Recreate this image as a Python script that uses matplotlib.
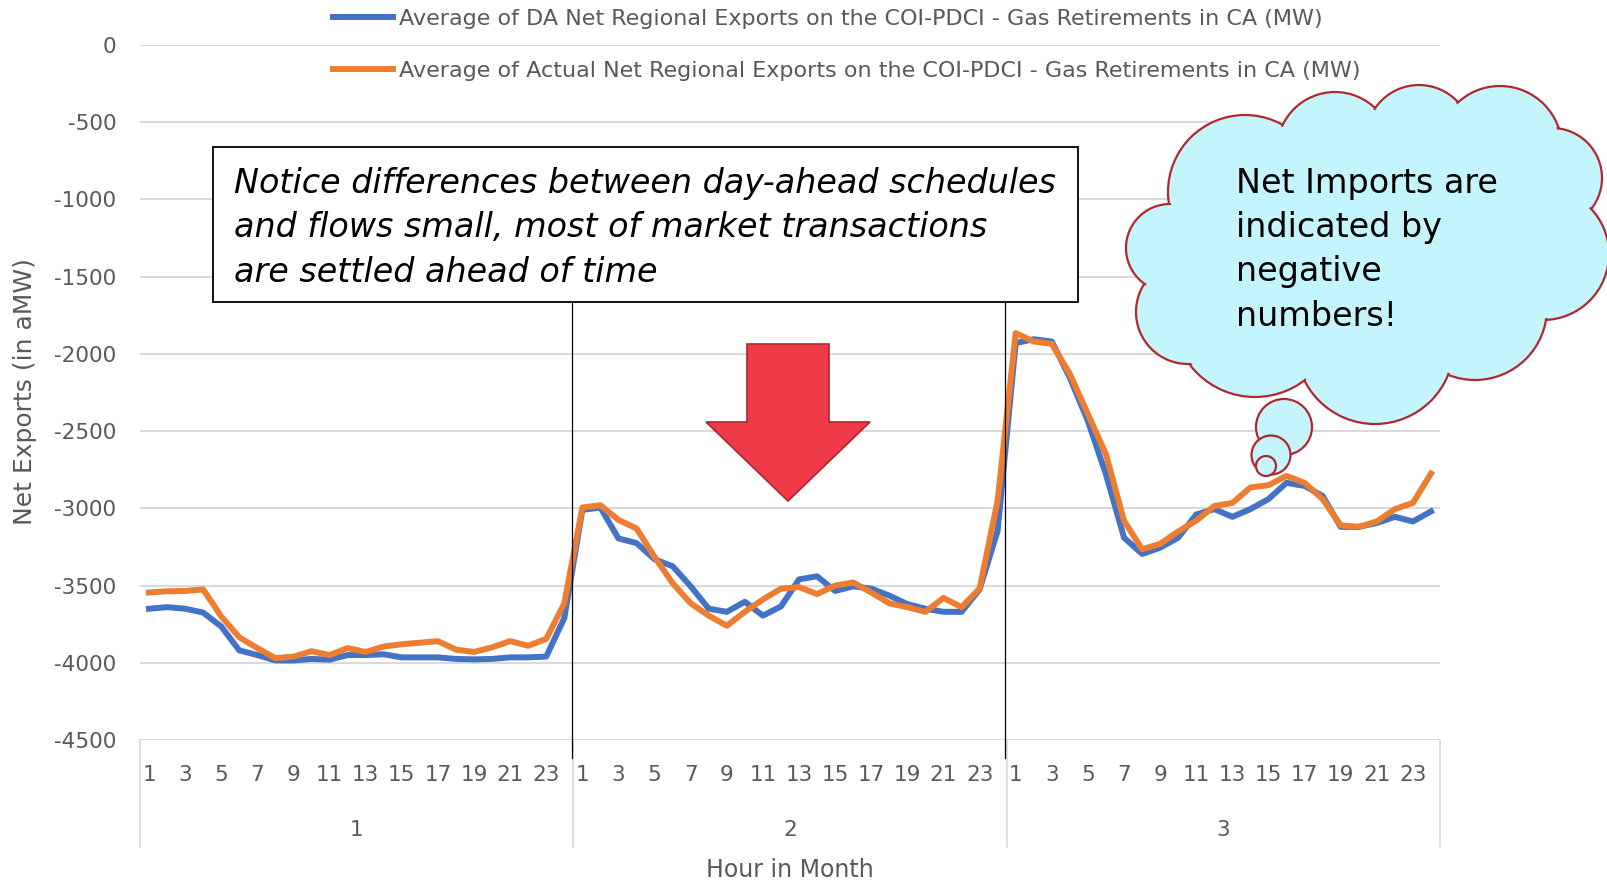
import matplotlib
matplotlib.use('Agg')
import matplotlib.pyplot as plt
import matplotlib.transforms as mtransforms
from matplotlib.patches import Rectangle, Polygon, Circle
import numpy as np

plt.rcParams['font.family'] = ['DejaVu Sans']
plt.rcParams['axes.unicode_minus'] = False

# data: average net regional exports (MW), hour 1..24 for each day
days = [1, 2, 3]
hours = list(range(1, 25))

da_day1 = [-3650, -3640, -3650, -3675, -3765, -3920, -3950, -3985, -3985, -3975, -3980, -3950,
           -3950, -3945, -3965, -3965, -3965, -3975, -3978, -3975, -3965, -3965, -3960, -3710]
da_day2 = [-3010, -2995, -3195, -3225, -3330, -3375, -3505, -3650, -3670, -3605, -3695, -3635,
           -3460, -3440, -3535, -3505, -3520, -3565, -3620, -3650, -3670, -3670, -3525, -3145]
da_day3 = [-1930, -1905, -1920, -2155, -2435, -2780, -3190, -3295, -3255, -3190, -3040, -3005,
           -3055, -3005, -2940, -2835, -2855, -2920, -3120, -3120, -3095, -3055, -3085, -3020]

act_day1 = [-3545, -3537, -3535, -3525, -3700, -3835, -3905, -3970, -3960, -3925, -3950, -3905,
            -3930, -3895, -3880, -3870, -3860, -3915, -3930, -3900, -3860, -3890, -3845, -3615]
act_day2 = [-2995, -2980, -3075, -3130, -3315, -3485, -3615, -3695, -3760, -3670, -3590, -3520,
            -3510, -3555, -3500, -3480, -3545, -3615, -3640, -3670, -3580, -3640, -3520, -2950]
act_day3 = [-1865, -1920, -1935, -2130, -2390, -2650, -3080, -3265, -3230, -3150, -3080, -2985,
            -2965, -2865, -2850, -2790, -2835, -2940, -3110, -3120, -3085, -3005, -2965, -2775]

yticks = list(range(0, -5000, -500))

da_label = 'Average of DA Net Regional Exports on the COI-PDCI - Gas Retirements in CA (MW)'
act_label = 'Average of Actual Net Regional Exports on the COI-PDCI - Gas Retirements in CA (MW)'

da = np.array(da_day1 + da_day2 + da_day3)
act = np.array(act_day1 + act_day2 + act_day3)
n = len(days) * len(hours)
x = np.arange(n) + 0.5

gray = '#595959'
W, H = 1608, 885
fig = plt.figure(figsize=(W / 100, H / 100), dpi=100)
ax = fig.add_axes([140 / W, 1 - 740 / H, 1300 / W, 695 / H])

l1, = ax.plot(x, da, color='#4472C4', lw=4.3, solid_joinstyle='round', zorder=3)
l2, = ax.plot(x, act, color='#ED7D31', lw=4.3, solid_joinstyle='round', zorder=4)

ax.set_xlim(0, n)
ax.set_ylim(-4500, 0)
ax.set_yticks(yticks)
ax.set_yticklabels([str(v) for v in yticks])
ax.grid(axis='y', color='#d9d9d9', lw=1.4)
ax.set_axisbelow(True)
for s in ax.spines.values():
    s.set_visible(False)

# hour labels (odd hours only)
ax.set_xticks(x)
ax.set_xticklabels([str(h) if h % 2 == 1 else '' for d in days for h in hours])
ax.tick_params(axis='x', length=0, pad=18, labelsize=15.5, labelcolor=gray)
ax.tick_params(axis='y', length=0, pad=17, labelsize=15.5, labelcolor=gray)

# day category box
trans = mtransforms.blended_transform_factory(ax.transData, ax.transAxes)
for k in range(len(days) + 1):
    ax.plot([k * len(hours)] * 2, [0, -0.154], transform=trans, color='#d9d9d9',
            lw=1.2, clip_on=False)
for k, d in enumerate(days):
    ax.text(k * len(hours) + len(hours) / 2, -0.1295, str(d), transform=trans,
            ha='center', va='center', fontsize=15.5, color=gray)

fig.text(790 / W, 1 - 870 / H, 'Hour in Month', ha='center', va='center',
         fontsize=17, color=gray)
fig.text(25 / W, 1 - 392 / H, 'Net Exports (in aMW)', ha='center', va='center',
         rotation=90, fontsize=18, color=gray)

leg = fig.legend([l1, l2], [da_label, act_label], loc='upper left',
                 bbox_to_anchor=(333 / W, 1 - 9 / H), frameon=False, fontsize=16,
                 handlelength=2.7, handletextpad=0.25, labelspacing=1.45,
                 borderpad=0, borderaxespad=0)
for t in leg.get_texts():
    t.set_color(gray)

# overlay in pixel coordinates for the slide annotations
ov = fig.add_axes([0, 0, 1, 1], zorder=5)
ov.set_xlim(0, W)
ov.set_ylim(H, 0)
ov.axis('off')

# connector lines from the text box
for cx in [572, 1005]:
    ov.plot([cx, cx], [302, 758], color='black', lw=0.9)

ov.add_patch(Rectangle((213, 147), 865, 155, facecolor='white', edgecolor='black', lw=1.3))
box_lines = ['Notice differences between day-ahead schedules',
             'and flows small, most of market transactions',
             'are settled ahead of time']
for i, line in enumerate(box_lines):
    ov.text(234, 183 + 44.5 * i, line, fontsize=24, style='italic', va='center', ha='left')

# red arrow
arrow = [(747, 344), (829, 344), (829, 422), (870, 422), (788, 501), (706, 422), (747, 422)]
ov.add_patch(Polygon(arrow, closed=True, facecolor='#EF3B47', edgecolor='#B0242E', lw=1.2))

# thought cloud
cyan = '#C5F5FC'
red = '#B0282F'
bumps = [((1245, 192), 77), ((1335, 150), 58), ((1419, 138), 53), ((1500, 148), 62),
         ((1552, 178), 50), ((1543, 254), 66), ((1475, 308), 72), ((1375, 345), 79),
         ((1255, 315), 82), ((1188, 312), 52), ((1170, 248), 44)]
for c, r in bumps:
    ov.add_patch(Circle(c, r, facecolor=cyan, edgecolor=red, lw=1.6))
for c, r in bumps:
    ov.add_patch(Circle(c, r - 2, facecolor=cyan, edgecolor='none'))
ov.add_patch(Polygon([c for c, r in bumps], closed=True, facecolor=cyan, edgecolor='none'))
for c, r in [((1284, 427), 28), ((1271, 455), 19.5), ((1266, 466), 10)]:
    ov.add_patch(Circle(c, r, facecolor=cyan, edgecolor=red, lw=1.6))

for i, line in enumerate(['Net Imports are', 'indicated by', 'negative', 'numbers!']):
    ov.text(1236, 183 + 44.5 * i, line, fontsize=24, va='center', ha='left')

fig.savefig('out.png', dpi=100)
